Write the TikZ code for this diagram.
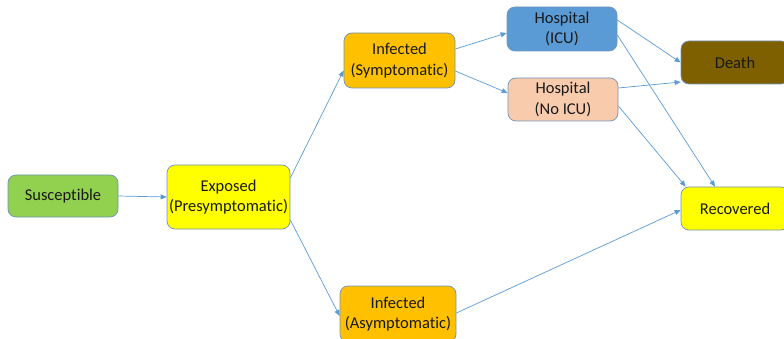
\documentclass[tikz,border=0pt]{standalone}
\usepackage{fontspec}
\setmainfont{Carlito}[Ligatures={NoCommon}]
\usetikzlibrary{arrows.meta}
\definecolor{cgreen}{HTML}{92D050}
\definecolor{cyellow}{HTML}{FFFF00}
\definecolor{corange}{HTML}{FFC000}
\definecolor{cblue}{HTML}{5B9BD5}
\definecolor{cpeach}{HTML}{F8CBAD}
\definecolor{cbrown}{HTML}{7F6000}
\definecolor{cborder}{HTML}{6F93B8}
\definecolor{cline}{HTML}{5B9BD5}
\tikzset{
  box/.style={draw=cborder, line width=0.7pt, rounded corners=8pt, align=center,
    inner sep=0pt, text=black!90, font=\fontsize{16.5}{20.5}\selectfont},
  conn/.style={draw=cline, line width=0.7pt, -{Triangle[length=6pt,width=5pt]}}
}
\begin{document}
\begin{tikzpicture}[x=1pt,y=-1pt]
\useasboundingbox (0,0) rectangle (784,339);
\clip (0,0) rectangle (784,339);
\node[box, fill=cgreen, minimum width=110pt, minimum height=42pt] (sus) at (63,196) {Susceptible};
\node[box, fill=cyellow, minimum width=123pt, minimum height=64pt] (exp) at (228.5,197) {Exposed\\(Presymptomatic)};
\node[box, fill=corange, minimum width=111pt, minimum height=55pt] (sym) at (399.5,60.5) {Infected\\(Symptomatic)};
\node[box, fill=corange, minimum width=116pt, minimum height=56pt] (asym) at (398,314) {Infected\\(Asymptomatic)};
\node[box, fill=cblue, minimum width=110pt, minimum height=44pt] (icu) at (562,29) {Hospital\\(ICU)};
\node[box, fill=cpeach, minimum width=110pt, minimum height=43pt] (noicu) at (563,99.5) {Hospital\\(No ICU)};
\node[box, fill=cbrown, minimum width=108pt, minimum height=43pt] (death) at (735,62.5) {Death};
\node[box, fill=cyellow, minimum width=108pt, minimum height=43pt] (rec) at (735,208.5) {Recovered};
\draw[conn] (sus.east) -- (exp.west);
\draw[conn] ([yshift=19pt]exp.east) -- ([yshift=-10pt]sym.west);
\draw[conn] ([yshift=-23pt]exp.east) -- ([yshift=-2pt]asym.west);
\draw[conn] ([yshift=11.5pt]sym.east) -- ([yshift=-4pt]icu.west);
\draw[conn] ([yshift=-10.5pt]sym.east) -- ([yshift=6.5pt]noicu.west);
\draw[conn] ([yshift=9pt]icu.east) -- (death.west);
\draw[conn] ([yshift=-6pt]icu.east) -- ([xshift=-20pt]rec.north);
\draw[conn] ([yshift=11.5pt]noicu.east) -- ([yshift=-19.5pt]death.west);
\draw[conn] ([yshift=-6.5pt]noicu.east) -- ([xshift=5pt]rec.north west);
\draw[conn] ([yshift=1pt]asym.east) -- ([yshift=-1.5pt]rec.west);
\end{tikzpicture}
\end{document}
